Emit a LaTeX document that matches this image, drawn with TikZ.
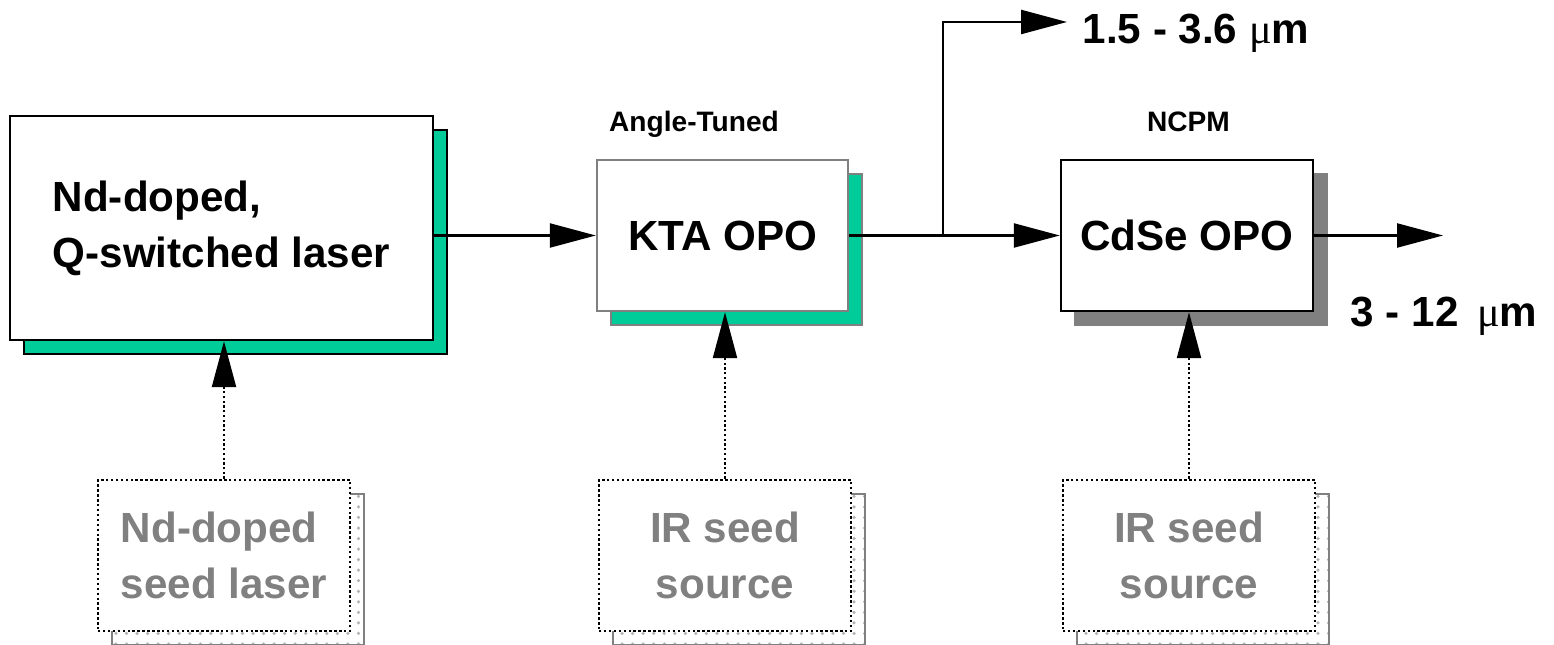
\documentclass[tikz,border=0pt]{standalone}
\usepackage{fontspec}
\setmainfont{Liberation Sans}
\newfontfamily\mufont{Liberation Serif}
\usetikzlibrary{arrows.meta,shadows,patterns}
\definecolor{laserGreen}{RGB}{0,204,153}
\definecolor{boxGray}{RGB}{128,128,128}
\newcommand{\um}{{\mufont\mdseries μ}m}

\begin{document}
\begin{tikzpicture}
        \useasboundingbox (0,0) rectangle (15.54,6.44);
        \begin{scope}[every node/.style={draw, line width=0.7pt, fill=white, inner sep=1, align=center,
                        font=\bfseries\fontsize{12}{16}\selectfont, minimum width=2.52cm, minimum height=1.51cm}]
                \node [minimum width=4.23cm, minimum height=2.24cm, align=left,
                        copy shadow={shadow xshift=0.14cm, shadow yshift=-0.14cm, fill=laserGreen, draw=black}] (laser) at (2.215,4.16) {Nd-doped,\\Q-switched laser};
                \node [draw=boxGray, minimum width=2.51cm,
                        copy shadow={shadow xshift=0.14cm, shadow yshift=-0.14cm, fill=laserGreen, draw=boxGray}] (kta) at (7.225,4.085) {KTA OPO};
                \node [copy shadow={shadow xshift=0.14cm, shadow yshift=-0.14cm, fill=boxGray, draw=boxGray}] (cdse) at (11.87,4.085) {CdSe OPO};
                \begin{scope}[every node/.append style={dash pattern=on 0.7pt off 0.7pt, text=boxGray,
                                copy shadow={shadow xshift=0.14cm, shadow yshift=-0.14cm, solid, draw=boxGray, pattern=dots, pattern color=boxGray!60}}]
                        \node [align=left] (seedA) at (2.24,0.885) {Nd-doped\\seed laser};
                        \node (seedB) at (7.25,0.885) {IR seed\\source};
                        \node (seedC) at (11.89,0.885) {IR seed\\source};
                \end{scope}
        \end{scope}
        \node [font=\bfseries\fontsize{8}{10}\selectfont] (angle) at (6.94,5.20) {Angle-Tuned};
        \node [font=\bfseries\fontsize{8}{10}\selectfont] (ncpm) at (11.885,5.22) {NCPM};
        \node [font=\bfseries\fontsize{12}{14}\selectfont, anchor=west, inner sep=0] (bandA) at (10.82,6.11) {1.5 - 3.6 \um};
        \node [font=\bfseries\fontsize{12}{14}\selectfont, anchor=west, inner sep=0] (bandB) at (13.50,3.275) {3 - 12 \,\um};
        \coordinate (split) at (9.43,4.085);
        \coordinate (tipA) at (10.67,6.22);
        \coordinate (tipB) at (14.43,4.085);
        \begin{scope}[every path/.style={line width=0.65pt, -{Triangle[length=4.6mm,width=2.4mm]}}]
                \path (kta.west -| laser.east) edge (kta.west);
                \path (kta.east) edge (cdse.west);
                \path (split) edge [to path={|- (\tikztotarget)}] (tipA);
                \path (cdse.east) edge (tipB);
                \path (seedA) edge [dash pattern=on 0.65pt off 0.7pt] (seedA |- laser.south);
                \path (seedB) edge [dash pattern=on 0.65pt off 0.7pt] (seedB |- kta.south);
                \path (seedC) edge [dash pattern=on 0.65pt off 0.7pt] (seedC |- cdse.south);
        \end{scope}
\end{tikzpicture}
\end{document}
